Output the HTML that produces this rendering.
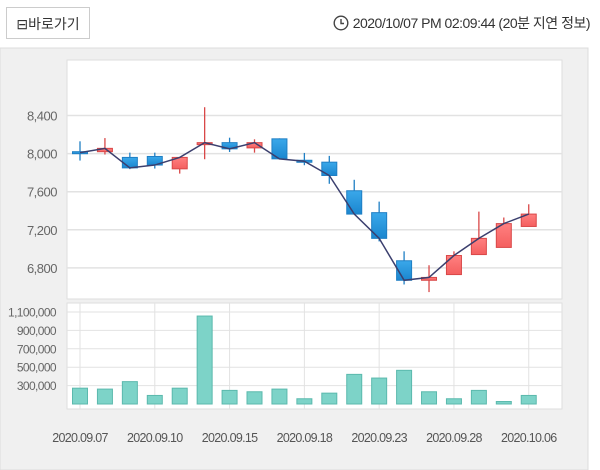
<!DOCTYPE html>
<html><head><meta charset="utf-8"><style>
html,body{margin:0;padding:0;width:600px;height:470px;overflow:hidden;background:#fff;font-family:"Liberation Sans","Noto Sans CJK KR",sans-serif}
#btn{position:absolute;left:6px;top:7px;width:84px;height:32px;border:1px solid #ccc;background:#fff;font-size:14px;color:#333;line-height:32px;text-align:center;box-sizing:border-box}
#ts{position:absolute;right:10px;top:13px;font-size:14px;color:#333;letter-spacing:-0.5px;display:flex;align-items:center}
</style></head><body>
<svg id="chart" width="600" height="470" style="position:absolute;left:0;top:0">
<defs>
<linearGradient id="gb" x1="0" y1="0" x2="0" y2="1"><stop offset="0" stop-color="#3aa8ea"/><stop offset="1" stop-color="#1b86cf"/></linearGradient>
<linearGradient id="gr" x1="0" y1="0" x2="0" y2="1"><stop offset="0" stop-color="#ff8080"/><stop offset="1" stop-color="#f45f5f"/></linearGradient>
</defs>
<rect x="0" y="48" width="588" height="422" fill="#f0f0f0" stroke="#dcdcdc"/>
<rect x="67" y="60" width="495" height="239" fill="#fff" stroke="#dedede"/>
<rect x="67" y="303" width="495" height="106" fill="#fff" stroke="#dedede"/>
<g id="g"></g>
</svg>
<div id="btn">⊟바로가기</div>
<div id="ts"><svg width="16" height="16" style="margin-right:4px"><circle cx="8" cy="8" r="6.8" fill="none" stroke="#444" stroke-width="1.4"/><path d="M8 4v4.5h3" fill="none" stroke="#444" stroke-width="1.4"/></svg>2020/10/07 PM 02:09:44 (20분 지연 정보)</div>
<script>
const dates=["2020.09.07","2020.09.08","2020.09.09","2020.09.10","2020.09.11","2020.09.14","2020.09.15","2020.09.16","2020.09.17","2020.09.18","2020.09.21","2020.09.22","2020.09.23","2020.09.24","2020.09.25","2020.09.28","2020.09.29","2020.10.05","2020.10.06"];
const opens=[8020,8020,7960,7970,7840,8095,8115,8060,8155,7930,7910,7610,7380,6875,6670,6730,6940,7015,7235];
const highs=[8129,8163,8010,8010,7965,8487,8167,8150,8160,8007,7976,7725,7496,6974,6828,6974,7391,7329,7468];
const lows=[7927,7990,7837,7843,7790,7941,8017,8010,7941,7878,7683,7364,7078,6626,6546,6730,6939,7016,7235];
const closes=[8010,8055,7850,7880,7960,8115,8050,8115,7945,7920,7770,7365,7110,6670,6700,6930,7110,7265,7365];
const volumes=[272000,262000,343000,193000,272000,1056000,248000,233000,262000,157000,218000,422000,382000,466000,233000,157000,248000,127000,193000];
const priceTicks=[8400,8000,7600,7200,6800];
const volTicks=[1100000,900000,700000,500000,300000];
const labelIdx=[0,3,6,9,12,15,18];
const NS="http://www.w3.org/2000/svg";
const g=document.getElementById('g');
const X=i=>80+i*24.93;
const YP=p=>115.5+(8400-p)*38.1/400;
const YV=v=>404-(v-100000)*18.4/200000;
function mk(t,a){const e=document.createElementNS(NS,t);for(const k in a)e.setAttribute(k,a[k]);g.appendChild(e);return e;}
priceTicks.forEach(t=>{
 const l=mk('line',{x1:67,x2:562,y1:YP(t),y2:YP(t),stroke:'#e2e2e2','stroke-width':1.5});
 
 
 const tx=mk('text',{x:57,y:YP(t)+5,'text-anchor':'end','font-size':13,fill:'#666','letter-spacing':'-0.5'});
 tx.textContent=t.toLocaleString('en-US');
 
 
});
volTicks.forEach(t=>{
 const l=mk('line',{x1:67,x2:562,y1:YV(t),y2:YV(t),stroke:'#e2e2e2','stroke-width':1});
 
 
 const tx=mk('text',{x:56,y:YV(t)+4.5,'text-anchor':'end','font-size':12,fill:'#666','letter-spacing':'-0.6'});
 tx.textContent=t.toLocaleString('en-US');
 
 
});
labelIdx.forEach(i=>{
 const l=mk('line',{x1:X(i),x2:X(i),y1:303,y2:409,stroke:'#e2e2e2','stroke-width':1});
 
 
 const tx=mk('text',{x:X(i),y:442,'text-anchor':'middle','font-size':12.5,fill:'#555','letter-spacing':'-0.7'});
 tx.textContent=dates[i];
 
 
});
volumes.forEach((v,i)=>{
 const r=mk('rect',{x:X(i)-7.5,y:YV(v),width:15,height:404-YV(v),fill:'#7dd3c8',stroke:'#5bb9ad','stroke-width':1});
 
 
});
opens.forEach((o,i)=>{
 const c=closes[i],up=c>o,col=up?'#d94848':'#1f7fc4';
 const w=mk('line',{x1:X(i),x2:X(i),y1:YP(highs[i]),y2:YP(lows[i]),stroke:col,'stroke-width':1.3});
 
 
 const top=YP(Math.max(o,c)),h=Math.max(2,YP(Math.min(o,c))-top);
 const r=mk('rect',{x:X(i)-7.5,y:top,width:15,height:h,fill:up?'url(#gr)':'url(#gb)',stroke:col,'stroke-width':1});
 
 
});
const pl=mk('polyline',{points:closes.map((c,i)=>X(i)+','+YP(c)).join(' '),fill:'none',stroke:'#3b3f6e','stroke-width':1.5});


</script>
</body></html>
